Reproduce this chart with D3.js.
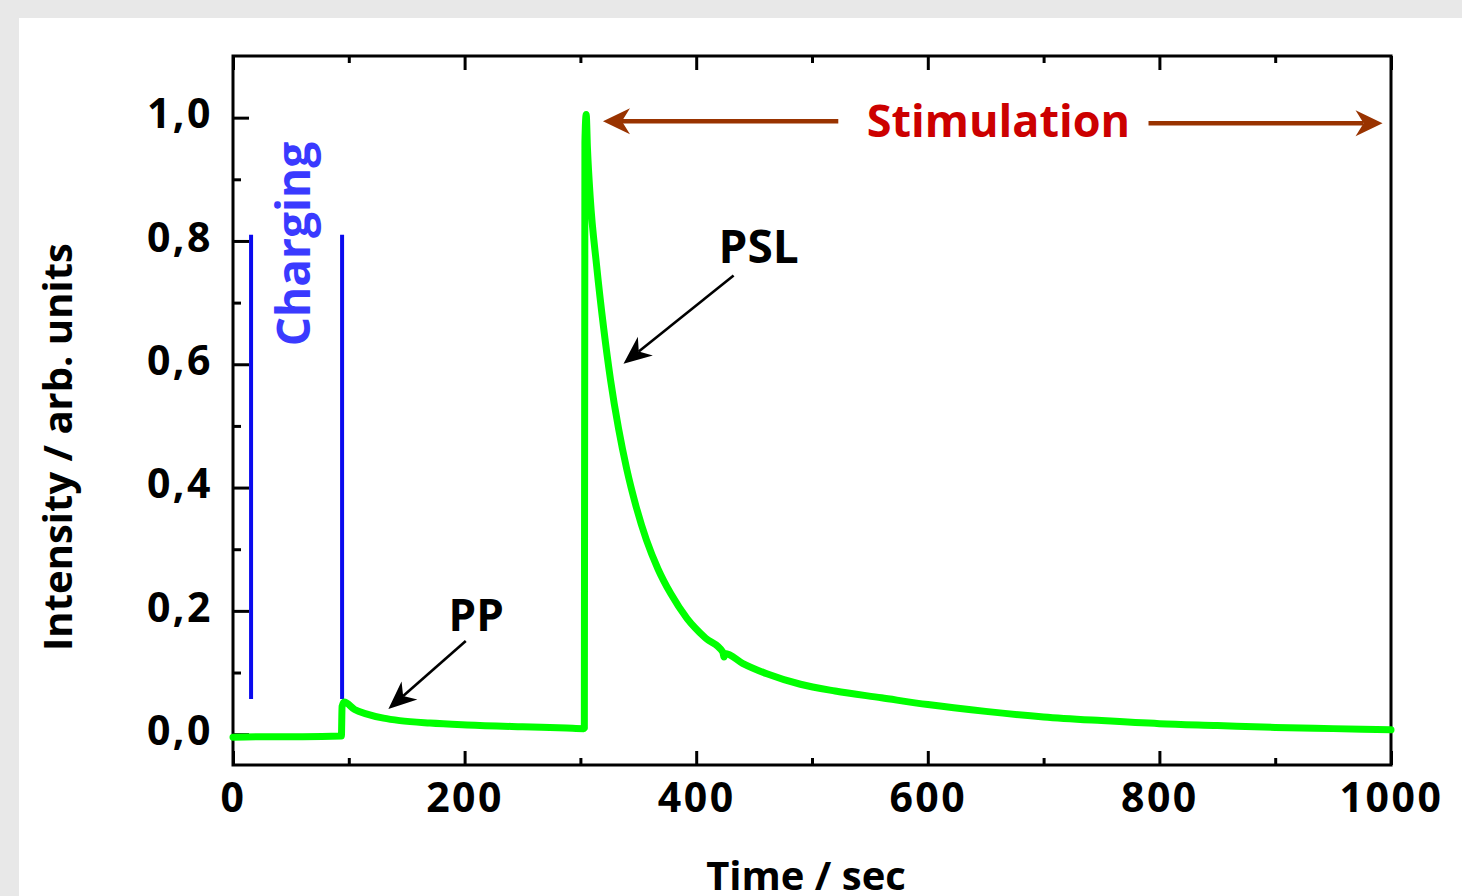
<!DOCTYPE html>
<html>
<head>
<meta charset="utf-8">
<script src="https://cdn.jsdelivr.net/npm/d3@7"></script>
<style>
  html, body { margin: 0; padding: 0; background: #e8e8e8; }
  svg { display: block; }
  text { font-family: "Open Sans", sans-serif; font-weight: 700; }
</style>
</head>
<body>
<script>
// Data
//= ================================
var timeSec = [0, 30, 60, 93.6, 94.2, 96, 105, 115, 130, 144, 170, 202, 250, 288, 302.8,
  303.4, 303.9, 305, 306.1, 308.5, 314, 320, 326, 333, 340, 348, 357, 367, 378,
  392, 408, 423, 424, 425, 440, 461, 490, 520, 560, 600, 650, 700, 750, 800, 850, 900, 950, 1000];
var intensity = [-0.005, -0.004, -0.004, -0.003, 0.045, 0.052, 0.040, 0.033, 0.026, 0.022, 0.018, 0.015, 0.012, 0.010, 0.009,
  0.010, 0.960, 1.005, 0.950, 0.870, 0.760, 0.660, 0.575, 0.495, 0.430, 0.370, 0.315, 0.268, 0.228,
  0.188, 0.156, 0.133, 0.125, 0.131, 0.115, 0.098, 0.081, 0.070, 0.059, 0.048, 0.037, 0.028, 0.022, 0.017, 0.014, 0.011, 0.009, 0.007];

var xMajor = [0, 200, 400, 600, 800, 1000];
var xMinor = [100, 300, 500, 700, 900];
var yMajor = [0, 0.2, 0.4, 0.6, 0.8, 1.0];
var yMinor = [0.1, 0.3, 0.5, 0.7, 0.9];

var chargingTimes = [15.6, 94.2];   // blue markers
var chargingRange = [0.057, 0.81];

// Step 1: Set up our chart
//= ================================
var W = 1462, H = 896;
var margin = {top: 56, right: 71, bottom: 131, left: 233},
    width = 1391 - margin.left,
    height = 765 - margin.top;

var svg = d3.select("body").append("svg")
    .attr("width", W)
    .attr("height", H);

// white panel on the grey page
svg.append("rect")
    .attr("x", 19).attr("y", 18)
    .attr("width", W - 19).attr("height", H - 18)
    .attr("fill", "white");

var g = svg.append("g")
    .attr("transform", "translate(" + margin.left + "," + margin.top + ")");

var x = d3.scaleLinear().domain([0, 1000]).range([0, width]);
var y = d3.scaleLinear().domain([-0.05, 1.1]).range([height, 0]);

// axes (ticks point inward)
function styleAxis(sel) {
  sel.select(".domain").remove();
  sel.selectAll(".tick line").attr("stroke", "black").attr("stroke-width", 3);
  sel.selectAll(".tick text")
    .attr("fill", "black")
    .style("font-size", "41px")
    .style("letter-spacing", "2.5px");
}

g.append("g").attr("transform", "translate(0," + height + ")")
  .call(d3.axisBottom(x).tickValues(xMajor).tickSize(-14).tickPadding(18).tickFormat(d3.format("d")))
  .call(styleAxis);
g.append("g").attr("transform", "translate(0," + height + ")")
  .call(d3.axisBottom(x).tickValues(xMinor).tickSize(-7).tickFormat(""))
  .call(styleAxis);
g.append("g")
  .call(d3.axisTop(x).tickValues(xMajor).tickSize(-14).tickFormat(""))
  .call(styleAxis);
g.append("g")
  .call(d3.axisTop(x).tickValues(xMinor).tickSize(-7).tickFormat(""))
  .call(styleAxis);
g.append("g")
  .call(d3.axisLeft(y).tickValues(yMajor).tickSize(-16).tickPadding(20)
    .tickFormat(function(d) { return d3.format(".1f")(d).replace(".", ","); }))
  .call(styleAxis)
  .selectAll(".tick text").attr("dy", "0.25em");
g.append("g")
  .call(d3.axisLeft(y).tickValues(yMinor).tickSize(-8).tickFormat(""))
  .call(styleAxis);

// frame
g.append("rect")
  .attr("width", width).attr("height", height)
  .attr("fill", "none").attr("stroke", "black").attr("stroke-width", 3);

// blue charging markers
g.selectAll(".charge")
  .data(chargingTimes)
  .enter().append("line")
    .attr("x1", function(d) { return x(d); })
    .attr("x2", function(d) { return x(d); })
    .attr("y1", y(chargingRange[1]))
    .attr("y2", y(chargingRange[0]))
    .attr("stroke", "#0a0aee").attr("stroke-width", 4);

// the signal
var line = d3.line()
  .x(function(d, i) { return x(timeSec[i]); })
  .y(function(d) { return y(d); })
  .curve(d3.curveMonotoneX);

g.append("path")
  .datum(intensity)
  .attr("fill", "none")
  .attr("stroke", "#00ff00")
  .attr("stroke-width", 7)
  .attr("stroke-linejoin", "round")
  .attr("stroke-linecap", "round")
  .attr("d", line);

// barbed arrow from (x0,y0) to tip (x1,y1), in data units
function arrow(x0, y0, x1, y1, color, lw, len, half) {
  var ax = x(x0), ay = y(y0), bx = x(x1), by = y(y1);
  var dx = bx - ax, dy = by - ay, L = Math.sqrt(dx * dx + dy * dy);
  var ux = dx / L, uy = dy / L, nx = -uy, ny = ux;
  var notch = len * 0.7;
  g.append("line")
    .attr("x1", ax).attr("y1", ay)
    .attr("x2", bx - ux * notch).attr("y2", by - uy * notch)
    .attr("stroke", color).attr("stroke-width", lw);
  var pts = [
    [bx, by],
    [bx - ux * len + nx * half, by - uy * len + ny * half],
    [bx - ux * notch, by - uy * notch],
    [bx - ux * len - nx * half, by - uy * len - ny * half]
  ];
  g.append("path")
    .attr("d", "M" + pts.join("L") + "Z")
    .attr("fill", color);
}

// Stimulation
arrow(522.7, 0.994, 319.5, 0.994, "#993300", 4.5, 27, 13);
arrow(790.6, 0.991, 992.7, 0.991, "#993300", 4.5, 27, 13);
g.append("text")
  .attr("x", x(661)).attr("y", y(0.968))
  .attr("text-anchor", "middle")
  .attr("fill", "#cc0000")
  .style("font-size", "45px")
  .text("Stimulation");

// PSL
g.append("text")
  .attr("x", x(454)).attr("y", y(0.765))
  .attr("text-anchor", "middle")
  .style("font-size", "46px")
  .text("PSL");
arrow(432.3, 0.744, 337.2, 0.601, "black", 2.6, 28, 12);

// PP
g.append("text")
  .attr("x", x(210)).attr("y", y(0.168))
  .attr("text-anchor", "middle")
  .style("font-size", "44px")
  .text("PP");
arrow(201, 0.151, 134.2, 0.041, "black", 2.6, 28, 12);

// Charging
g.append("text")
  .attr("transform", "translate(" + x(66.5) + "," + y(0.795) + ") rotate(-90)")
  .attr("text-anchor", "middle")
  .attr("fill", "#3a3aff")
  .style("font-size", "46px")
  .text("Charging");

// axis titles
svg.append("text")
  .attr("transform", "translate(72,447) rotate(-90)")
  .attr("text-anchor", "middle")
  .style("font-size", "40px")
  .text("Intensity / arb. units");

svg.append("text")
  .attr("x", 806).attr("y", 890)
  .attr("text-anchor", "middle")
  .style("font-size", "40px")
  .text("Time / sec");
</script>
</body>
</html>
